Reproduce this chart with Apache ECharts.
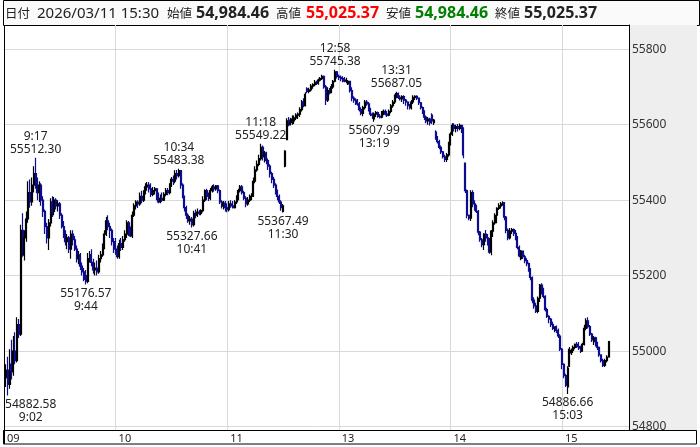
<!DOCTYPE html>
<html>
<head>
<meta charset="utf-8">
<script src="https://cdn.jsdelivr.net/npm/echarts@6/dist/echarts.min.js"></script>
<style>
  html, body { margin: 0; padding: 0; background: #fff; }
  #chart { width: 700px; height: 447px; }
</style>
</head>
<body>
<div id="chart"></div>
<script>
// 1分足 [始値, 終値, 安値, 高値]  9:01 - 11:30
const morningBars = [
  [54930,54950,54905,54965],[54950,54912,54882.58,54985],[54912,54965,54900,55005],[54965,54945,54925,55030],
  [54945,55000,54935,55040],[55000,54975,54965,55050],[54975,55070,54970,55090],[55070,55045,55035,55085],
  [55045,55320,55040,55335],[55320,55255,55250,55365],[55255,55300,55240,55320],[55300,55350,55290,55370],
  [55350,55420,55340,55450],[55420,55395,55380,55455],[55395,55440,55385,55460],[55440,55470,55420,55490],
  [55470,55450,55430,55512.30],[55450,55420,55400,55460],[55420,55440,55395,55450],[55440,55400,55385,55445],
  [55400,55370,55355,55410],[55370,55330,55310,55375],[55330,55300,55285,55340],[55300,55340,55268,55350],
  [55340,55395,55330,55405],[55395,55370,55355,55410],[55370,55400,55360,55408],[55400,55385,55375,55405],
  [55385,55390,55370,55400],[55390,55360,55350,55395],[55360,55330,55325,55365],[55330,55310,55300,55345],
  [55310,55290,55280,55320],[55290,55300,55270,55310],[55300,55270,55260,55305],[55270,55310,55245,55320],
  [55310,55295,55280,55320],[55295,55270,55265,55305],[55270,55245,55235,55280],[55245,55255,55230,55265],
  [55255,55225,55215,55260],[55225,55210,55200,55235],[55210,55190,55185,55220],[55200,55185,55176.57,55215],
  [55185,55245,55180,55260],[55245,55255,55235,55265],[55255,55235,55225,55270],[55235,55215,55205,55245],
  [55215,55220,55200,55235],[55220,55210,55200,55240],[55210,55245,55205,55255],[55245,55255,55235,55265],
  [55255,55275,55250,55285],[55275,55310,55270,55320],[55310,55345,55305,55355],[55345,55330,55320,55360],
  [55330,55320,55300,55340],[55320,55290,55280,55325],[55290,55270,55260,55300],[55270,55265,55255,55300],
  [55265,55250,55245,55280],[55250,55285,55245,55295],[55285,55275,55265,55300],[55275,55295,55268,55305],
  [55295,55310,55290,55320],[55310,55340,55300,55347],[55340,55315,55305,55345],[55315,55305,55302,55330],
  [55305,55360,55300,55370],[55360,55385,55355,55392],[55385,55395,55375,55400],[55395,55390,55379,55400],
  [55390,55410,55385,55420],[55410,55400,55392,55425],[55400,55420,55395,55426],[55420,55435,55415,55445],
  [55435,55440,55425,55448],[55440,55430,55420,55448],[55430,55415,55408,55445],[55415,55425,55410,55435],
  [55425,55430,55415,55435],[55430,55410,55400,55432],[55410,55395,55392,55420],[55395,55405,55392,55415],
  [55405,55400,55395,55420],[55400,55415,55398,55421],[55415,55425,55410,55432],[55425,55420,55413,55432],
  [55420,55440,55415,55445],[55440,55455,55435,55461],[55455,55450,55440,55465],[55450,55470,55445,55479],
  [55470,55465,55455,55480],[55465,55478,55460,55483.38],[55478,55440,55430,55480],[55440,55410,55405,55445],
  [55410,55380,55370,55412],[55380,55360,55350,55385],[55360,55345,55340,55365],[55345,55350,55335,55358],
  [55350,55335,55327.66,55355],[55335,55365,55330,55372],[55365,55360,55352,55375],[55360,55368,55355,55378],
  [55368,55365,55360,55374],[55365,55372,55360,55376],[55372,55400,55368,55410],[55400,55425,55395,55428],
  [55425,55410,55400,55430],[55410,55405,55398,55420],[55405,55425,55400,55432],[55425,55435,55420,55440],
  [55435,55430,55422,55442],[55430,55438,55425,55440],[55438,55425,55418,55440],[55425,55395,55390,55428],
  [55395,55385,55378,55400],[55385,55392,55375,55398],[55392,55380,55370,55398],[55380,55375,55368,55392],
  [55375,55390,55370,55398],[55390,55385,55380,55400],[55385,55380,55378,55398],[55380,55395,55378,55400],
  [55395,55408,55390,55413],[55408,55425,55400,55430],[55425,55435,55420,55440],[55435,55420,55415,55440],
  [55420,55405,55400,55425],[55405,55390,55381,55410],[55390,55400,55385,55408],[55400,55405,55395,55415],
  [55405,55410,55400,55418],[55410,55450,55408,55460],[55450,55480,55445,55490],[55480,55495,55475,55505],
  [55495,55510,55490,55520],[55510,55540,55505,55549.22],[55540,55515,55505,55545],[55515,55525,55500,55530],
  [55525,55505,55495,55528],[55505,55490,55480,55510],[55490,55470,55460,55495],[55470,55455,55445,55475],
  [55455,55440,55432,55462],[55440,55425,55415,55445],[55425,55410,55400,55428],[55410,55395,55390,55415],
  [55395,55380,55372,55400],[55370,55385,55367.49,55390]
];

// 12:31 - 15:24
const afternoonBars = [
  [55490,55530,55487,55532],[55560,55610,55559,55617],[55612,55600,55596,55620],[55600,55605,55598,55618],
  [55605,55615,55600,55625],[55610,55618,55602,55624],[55618,55625,55612,55630],[55625,55628,55615,55632],
  [55628,55640,55620,55646],[55640,55660,55635,55665],[55660,55650,55646,55670],[55650,55680,55648,55686],
  [55695,55688,55683,55699],[55688,55692,55683,55698],[55692,55702,55688,55708],[55702,55706,55695,55710],
  [55706,55712,55702,55718],[55712,55710,55705,55716],[55710,55718,55706,55722],[55718,55722,55714,55726],
  [55722,55728,55718,55732],[55728,55700,55695,55730],[55700,55665,55652,55705],[55665,55690,55660,55699],
  [55690,55685,55680,55697],[55685,55700,55683,55708],[55700,55715,55695,55718],[55715,55740,55712,55745.38],
  [55740,55728,55722,55742],[55728,55725,55718,55733],[55725,55722,55715,55730],[55722,55720,55712,55728],
  [55720,55715,55712,55726],[55715,55718,55710,55724],[55708,55715,55705,55718],[55715,55690,55685,55716],
  [55690,55670,55662,55699],[55670,55665,55658,55675],[55665,55660,55652,55670],[55660,55655,55650,55668],
  [55655,55640,55635,55660],[55640,55630,55625,55646],[55630,55645,55622,55650],[55645,55660,55640,55665],
  [55660,55655,55650,55665],[55655,55640,55635,55660],[55640,55628,55622,55645],[55628,55625,55615,55632],
  [55615,55628,55607.99,55632],[55628,55632,55620,55636],[55632,55622,55618,55635],[55622,55620,55616,55628],
  [55620,55630,55617,55636],[55630,55635,55625,55640],[55635,55628,55624,55640],[55628,55625,55620,55636],
  [55625,55635,55622,55640],[55635,55650,55630,55655],[55650,55660,55645,55665],[55660,55675,55655,55680],
  [55675,55682,55670,55687.05],[55682,55672,55668,55685],[55672,55668,55664,55678],[55668,55674,55660,55678],
  [55674,55665,55655,55678],[55665,55660,55650,55668],[55660,55650,55640,55662],[55650,55645,55640,55655],
  [55645,55660,55640,55665],[55660,55672,55655,55678],[55672,55675,55665,55678],[55675,55670,55665,55678],
  [55670,55658,55652,55672],[55658,55645,55640,55660],[55645,55635,55628,55648],[55635,55620,55612,55638],
  [55620,55610,55604,55624],[55610,55615,55600,55620],[55615,55605,55598,55618],[55625,55610,55602,55630],
  [55605,55612,55599,55615],[55580,55565,55560,55585],[55565,55555,55550,55570],[55555,55540,55535,55560],
  [55540,55528,55522,55545],[55528,55515,55510,55530],[55515,55508,55501,55520],[55508,55520,55501,55525],
  [55520,55550,55515,55555],[55550,55575,55545,55580],[55575,55598,55570,55604],[55598,55590,55582,55604],
  [55590,55595,55580,55600],[55595,55590,55582,55602],[55590,55598,55585,55603],[55598,55588,55578,55600],
  [55588,55520,55511,55593],[55498,55425,55419,55500],[55425,55360,55352,55428],[55360,55352,55347,55362],
  [55352,55420,55345,55426],[55420,55390,55381,55426],[55390,55380,55372,55400],[55380,55370,55366,55388],
  [55370,55315,55307,55374],[55315,55295,55290,55318],[55295,55282,55275,55300],[55282,55310,55268,55312],
  [55310,55300,55290,55321],[55300,55285,55280,55310],[55285,55262,55258,55300],[55262,55318,55254,55321],
  [55318,55340,55302,55347],[55340,55360,55335,55365],[55360,55378,55339,55381],[55378,55385,55374,55392],
  [55385,55390,55378,55395],[55390,55393,55385,55397],[55393,55355,55347,55395],[55355,55320,55312,55358],
  [55320,55300,55294,55325],[55300,55318,55296,55326],[55318,55322,55310,55326],[55322,55312,55305,55325],
  [55312,55300,55294,55321],[55300,55275,55270,55305],[55275,55252,55249,55280],[55245,55265,55241,55268],
  [55265,55250,55244,55266],[55250,55240,55233,55255],[55240,55232,55225,55246],[55232,55215,55210,55235],
  [55215,55195,55188,55220],[55195,55135,55127,55198],[55135,55120,55112,55143],[55120,55105,55101,55128],
  [55105,55140,55100,55145],[55140,55175,55130,55178],[55175,55160,55150,55180],[55160,55145,55140,55168],
  [55145,55110,55105,55148],[55110,55092,55088,55115],[55092,55085,55074,55095],[55085,55070,55064,55088],
  [55070,55060,55056,55078],[55060,55064,55050,55066],[55064,55055,55048,55068],[55055,55040,55035,55060],
  [55040,55005,55000,55045],[55005,54965,54952,55008],[54965,54935,54928,54968],[54935,54910,54905,54940],
  [54905,54955,54886.66,54960],[54960,55005,54958,55011],[54995,55002,54990,55007],[55002,55010,54995,55015],
  [55010,55018,55005,55020],[55018,55012,55008,55024],[55012,55008,55003,55024],[55008,55000,54995,55014],
  [55000,55018,54998,55022],[55018,55060,55015,55070],[55060,55080,55055,55087],[55080,55065,55060,55090],
  [55065,55045,55040,55069],[55045,55030,55024,55048],[55025,55035,55016,55040],[55035,55020,55012,55038],
  [55020,55010,55003,55025],[55010,54990,54985,55012],[54990,54975,54970,54992],[54975,54962,54958,54980],
  [54962,54975,54958,54980],[54975,54984,54970,54989]
];

// 15:30 大引け
const closeBar = [54984.46, 55025.37, 54984.46, 55025.37];
const headerDate = '2026/03/11 15:30';

// 高値・安値の注記
const peakTimes = ['9:17', '10:34', '11:18', '12:58', '13:31'];
const peakValues = [55512.30, 55483.38, 55549.22, 55745.38, 55687.05];
const troughTimes = ['9:02', '9:44', '10:41', '11:30', '13:19', '15:03'];
const troughValues = [54882.58, 55176.57, 55327.66, 55367.49, 55607.99, 54886.66];

// 軸
const hourTicks = ['9:00', '10:00', '11:00', '13:00', '14:00', '15:00'];
const hourLabels = ['09', '10', '11', '13', '14', '15'];
const priceTicks = [54800, 55000, 55200, 55400, 55600, 55800];

function minutes(h0, m0, h1, m1) {
  var out = [];
  for (var t = h0 * 60 + m0; t <= h1 * 60 + m1; t++) {
    out.push(Math.floor(t / 60) + ':' + String(t % 60).padStart(2, '0'));
  }
  return out;
}
var categories = minutes(9, 0, 11, 30).concat(minutes(12, 31, 15, 24), ['15:30']);
for (var k = 0; k < 11; k++) categories.push('pad' + k);

var bars = ['-'].concat(morningBars, afternoonBars, [closeBar]);

var FONT = '"Noto Sans", "Noto Sans CJK JP", sans-serif';
var JP = '"Noto Sans CJK JP", "Noto Sans", sans-serif';

function isHour(index, value) {
  return hourTicks.indexOf(value) >= 0;
}

var marks = [];
peakTimes.forEach(function (t, i) {
  marks.push({
    coord: [t, peakValues[i]],
    label: { position: 'top', distance: 1, formatter: t + '\n' + peakValues[i].toFixed(2) }
  });
});
troughTimes.forEach(function (t, i) {
  var lab = { position: 'bottom', distance: 2, formatter: troughValues[i].toFixed(2) + '\n' + t };
  if (t === '9:02') lab.offset = [23, 0];
  marks.push({ coord: [t, troughValues[i]], label: lab });
});

function fmt(v) {
  return v.toLocaleString('en-US', { minimumFractionDigits: 2, maximumFractionDigits: 2 });
}

var header = [
  { x: 5, text: '日付', font: '12.5px ' + JP, fill: '#222' },
  { x: 37, text: headerDate, font: '15px ' + FONT, fill: '#222' },
  { x: 167, text: '始値', font: '12.5px ' + JP, fill: '#222' },
  { x: 196, text: fmt(closeBar[0]), font: 'bold 16px ' + FONT, fill: '#222' },
  { x: 276, text: '高値', font: '12.5px ' + JP, fill: '#222' },
  { x: 306, text: fmt(closeBar[3]), font: 'bold 16px ' + FONT, fill: '#ff0000' },
  { x: 386, text: '安値', font: '12.5px ' + JP, fill: '#222' },
  { x: 415, text: fmt(closeBar[2]), font: 'bold 16px ' + FONT, fill: '#008000' },
  { x: 495, text: '終値', font: '12.5px ' + JP, fill: '#222' },
  { x: 524, text: fmt(closeBar[1]), font: 'bold 16px ' + FONT, fill: '#222' }
].map(function (h) {
  return {
    type: 'text', z: 10, x: h.x, y: 13.5,
    style: { text: h.text, font: h.font, fill: h.fill, verticalAlign: 'middle' }
  };
});

var chart = echarts.init(document.getElementById('chart'));
chart.setOption({
  animation: false,
  backgroundColor: '#fff',
  graphic: [
    { type: 'rect', z: -1, shape: { x: 3.5, y: 0.5, width: 696, height: 25 },
      style: { fill: '#fafafa', stroke: '#000', lineWidth: 1 } },
    { type: 'rect', z: -1, shape: { x: 629, y: 25, width: 68, height: 405 },
      style: { fill: '#eeeeee' } },
    { type: 'rect', z: -1, shape: { x: 3.5, y: 430.5, width: 693, height: 13.5 },
      style: { fill: '#fff', stroke: '#000', lineWidth: 1 } },
    { type: 'line', z: 5, shape: { x1: 4.5, y1: 25, x2: 4.5, y2: 444 },
      style: { stroke: '#000', lineWidth: 1 } }
  ].concat(header),
  grid: { left: 4, right: 71, top: 25, bottom: 17 },
  xAxis: {
    type: 'category',
    data: categories,
    boundaryGap: false,
    axisLine: { show: true, lineStyle: { color: '#000', width: 1 } },
    axisTick: { show: false },
    axisLabel: {
      interval: isHour,
      formatter: function (v) { return hourLabels[hourTicks.indexOf(v)]; },
      align: 'left', padding: [0, 0, 0, 3], margin: 3,
      fontSize: 11, color: '#222', fontFamily: FONT
    },
    splitLine: { show: true, interval: isHour, lineStyle: { color: '#d9d9d9', width: 1 } }
  },
  yAxis: {
    type: 'value',
    position: 'right',
    min: 54791,
    max: 55864,
    axisLine: { show: true, lineStyle: { color: '#000', width: 1 } },
    axisTick: { show: false, customValues: priceTicks },
    axisLabel: {
      customValues: priceTicks, margin: 3,
      formatter: function (v) { return String(v); },
      fontSize: 12, color: '#333', fontFamily: FONT
    },
    splitLine: { show: true, lineStyle: { color: '#d9d9d9', width: 1 } }
  },
  series: [{
    type: 'candlestick',
    data: bars,
    barWidth: 1.5,
    itemStyle: {
      color: '#000000', color0: '#0c0c90',
      borderColor: '#000000', borderColor0: '#0c0c90',
      borderWidth: 1.2
    },
    markPoint: {
      symbol: 'circle',
      symbolSize: 1,
      itemStyle: { color: 'rgba(0,0,0,0)' },
      label: { color: '#222', fontSize: 12, lineHeight: 13, fontFamily: FONT },
      data: marks
    }
  }]
});
</script>
</body>
</html>
